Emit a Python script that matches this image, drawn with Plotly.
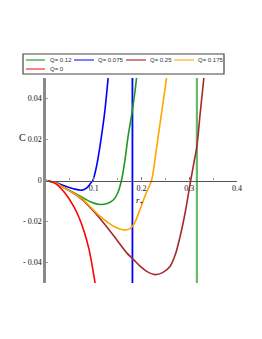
import plotly.graph_objects as go

# ---- data ----
labels = ["Q= 0.12", "Q= 0.075", "Q= 0.25", "Q= 0.175", "Q= 0"]
colors = ["#1e9a1e", "#0000ff", "#a52a2a", "#ffa500", "#ff0000"]
legend_colors = ["#80c480", "#8080ff", "#cc8484", "#ffcf80", "#ff8080"]

x_q012 = [0, 0.02, 0.043, 0.06, 0.078, 0.095, 0.113, 0.128, 0.141, 0.15, 0.158, 0.165, 0.172, 0.18, 0.186, 0.19, 0.194]
y_q012 = [0, -0.0012, -0.0041, -0.0062, -0.0085, -0.0106, -0.0117, -0.0112, -0.0095, -0.0062, 0.0, 0.0095, 0.0216, 0.033, 0.0428, 0.0509, 0.06]

x_q0075 = [0, 0.02, 0.04, 0.06, 0.075, 0.085, 0.092, 0.098, 0.105, 0.113, 0.12, 0.1236, 0.1305, 0.134]
y_q0075 = [0, -0.0010, -0.0027, -0.0042, -0.0047, -0.0037, -0.0018, 0.0, 0.006, 0.0167, 0.028, 0.0346, 0.0509, 0.06]

x_q025 = [0, 0.02, 0.043, 0.06, 0.078, 0.095, 0.113, 0.141, 0.169, 0.183, 0.197, 0.21, 0.228, 0.245, 0.26, 0.271, 0.281, 0.292, 0.303, 0.31, 0.316, 0.323, 0.331, 0.335]
y_q025 = [0, -0.0012, -0.0042, -0.0066, -0.0097, -0.0138, -0.0185, -0.0267, -0.0353, -0.0385, -0.0418, -0.0442, -0.0459, -0.0448, -0.0418, -0.036, -0.0272, -0.015, 0.0, 0.009, 0.0167, 0.033, 0.0509, 0.06]

x_q0175 = [0, 0.02, 0.043, 0.06, 0.078, 0.095, 0.113, 0.13, 0.141, 0.155, 0.165, 0.176, 0.186, 0.197, 0.21, 0.221, 0.232, 0.242, 0.253, 0.258]
y_q0175 = [0, -0.0012, -0.0042, -0.0065, -0.0093, -0.0133, -0.0174, -0.0205, -0.0223, -0.0237, -0.0242, -0.0235, -0.0205, -0.014, -0.006, 0.0, 0.0167, 0.033, 0.0509, 0.06]

x_q0 = [0, 0.02, 0.04, 0.06, 0.07, 0.08, 0.09, 0.1, 0.106]
y_q0 = [0, -0.0015, -0.0062, -0.0135, -0.0185, -0.025, -0.0335, -0.046, -0.055]

# pole positions (vertical asymptotes) for Q=0.12 and Q=0.075
pole_q012 = 0.316
pole_q0075 = 0.181

x_tickvals = [0.1, 0.2, 0.3, 0.4]
x_ticktext = ["0.1", "0.2", "0.3", "0.4"]
y_tickvals = [-0.04, -0.02, 0, 0.02, 0.04]
y_ticktext = ["- 0.04", "- 0.02", "0", "0.02", "0.04"]

series = [(x_q012, y_q012), (x_q0075, y_q0075), (x_q025, y_q025), (x_q0175, y_q0175), (x_q0, y_q0)]

fig = go.Figure()

# vertical asymptote lines
fig.add_trace(go.Scatter(x=[pole_q012, pole_q012], y=[-1, 1], mode="lines",
                         line=dict(color="#66bb6a", width=2.2), showlegend=False, hoverinfo="skip"))
fig.add_trace(go.Scatter(x=[pole_q0075, pole_q0075], y=[-1, 1], mode="lines",
                         line=dict(color="#0000ff", width=1.8), showlegend=False, hoverinfo="skip"))

for (xs, ys), c, name in zip(series, colors, labels):
    fig.add_trace(go.Scatter(x=xs, y=ys, mode="lines", name=name,
                             line=dict(color=c, width=1.6, shape="spline", smoothing=0.8),
                             showlegend=False))

serif = "Liberation Serif"
ink = "#111111"

# the page body adds an 8px offset; the figure is sized to fit the window after it
fig.update_layout(
    width=254, height=331,
    margin=dict(l=38, r=25, t=70, b=56, autoexpand=False),
    paper_bgcolor="white", plot_bgcolor="white",
    showlegend=False,
    font=dict(family=serif, size=8, color=ink),
    xaxis=dict(range=[0, 0.4], anchor="free", position=0.5, automargin=False,
               showgrid=False, zeroline=False,
               showline=True, linecolor="#555", linewidth=1.3,
               tickvals=x_tickvals, ticktext=x_ticktext,
               ticks="inside", ticklen=3, tickcolor="#777",
               minor=dict(dtick=0.05, tick0=0, ticks="inside", ticklen=2, tickcolor="#999"),
               tickfont=dict(family=serif, size=8, color=ink)),
    yaxis=dict(range=[-0.05, 0.05], showgrid=False, zeroline=False, automargin=False,
               showline=True, linecolor="#8a8a8a", linewidth=2.5,
               tickvals=y_tickvals, ticktext=y_ticktext,
               ticks="inside", ticklen=2, tickcolor="#999",
               tickfont=dict(family=serif, size=8, color=ink)),
)

# legend box and axis titles, positioned in page pixels converted to paper coords
def px_x(px):
    return (px - 46) / 191.0

def px_y(py):
    return (283 - py) / 205.0

fig.add_annotation(x=px_x(17), y=px_y(130), xref="paper", yref="paper", text="C", showarrow=False,
                   font=dict(family=serif, size=10, color=ink))
fig.add_annotation(x=0.197, y=-0.0098, xref="x", yref="y", text="<i>r</i><sub>+</sub>", showarrow=False,
                   font=dict(family=serif, size=9, color=ink))

fig.add_shape(type="rect", xref="paper", yref="paper",
              x0=px_x(23), x1=px_x(224), y0=px_y(74), y1=px_y(54),
              line=dict(color="#444", width=1.2), fillcolor="white")

entry_line_x = [(26, 45), (74, 94), (126, 146), (174, 194), (26, 45)]
entry_text_x = [48, 96, 148, 196, 48]
entry_row_y = [60, 60, 60, 60, 69]

for i, name in enumerate(labels):
    x0, x1 = entry_line_x[i]
    yy = px_y(entry_row_y[i])
    fig.add_shape(type="line", xref="paper", yref="paper",
                  x0=px_x(x0), x1=px_x(x1), y0=yy, y1=yy,
                  line=dict(color=legend_colors[i], width=2))
    fig.add_annotation(x=px_x(entry_text_x[i]), y=yy, xref="paper", yref="paper",
                       text=name, showarrow=False, xanchor="left", yanchor="middle",
                       font=dict(family="Liberation Sans", size=6, color="#333"))

fig.write_html("out.html")
